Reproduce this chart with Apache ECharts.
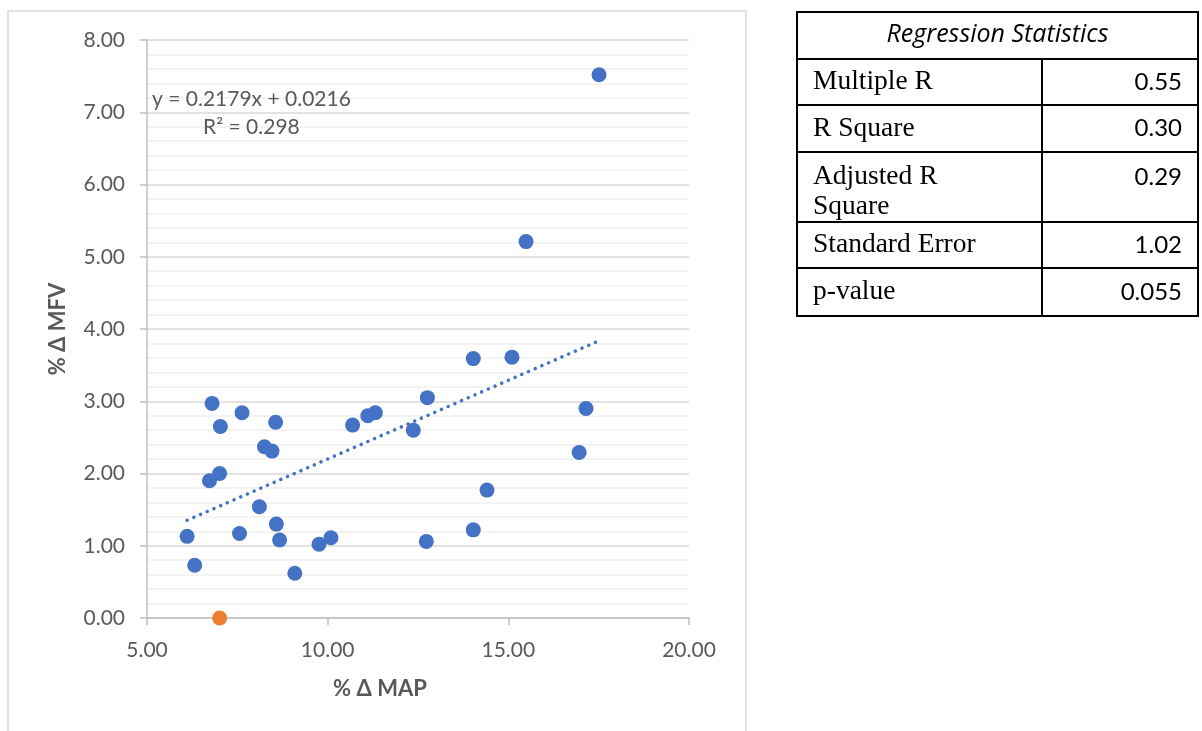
<!DOCTYPE html>
<html><head><meta charset="utf-8">
<script src="https://cdn.jsdelivr.net/npm/echarts@6/dist/echarts.min.js"></script>
<style>html,body{margin:0;padding:0;background:#fff}#c{width:1202px;height:731px}</style>
</head><body><div id="c"></div>
<script>
// ---- data ----
const mapX = [17.51, 15.49, 14.03, 15.10, 17.15, 16.96, 14.41, 14.03, 12.73, 12.76, 12.37, 11.32, 11.11, 10.69, 10.09, 9.76, 9.09, 8.67, 8.58, 8.11, 7.56, 8.56, 8.46, 8.25, 7.63, 6.80, 7.03, 7.01, 6.73, 6.11, 6.32];
const mfvY = [7.52, 5.21, 3.59, 3.61, 2.90, 2.29, 1.77, 1.22, 1.06, 3.05, 2.60, 2.84, 2.80, 2.67, 1.11, 1.02, 0.62, 1.08, 1.30, 1.54, 1.17, 2.71, 2.31, 2.37, 2.84, 2.97, 2.65, 2.00, 1.90, 1.13, 0.73];
const outlierX = [7.01];
const outlierY = [0.00];
const trendSlope = 0.2179;
const trendIntercept = 0.0216;
const equationText = 'y = 0.2179x + 0.0216';
const r2Text = 'R² = 0.298';
const xAxisTitle = '% Δ MAP';
const yAxisTitle = '% Δ MFV';
const tableTitle = 'Regression Statistics';
const statLabels = ['Multiple R', 'R Square', 'Adjusted R\nSquare', 'Standard Error', 'p-value'];
const statValues = ['0.55', '0.30', '0.29', '1.02', '0.055'];

// ---- build ----
const mainPts = mapX.map((x, i) => [x, mfvY[i]]);
const outPts = outlierX.map((x, i) => [x, outlierY[i]]);
const xMin = Math.min(...mapX), xMax = Math.max(...mapX);
const trendPts = [[xMin, trendSlope * xMin + trendIntercept], [xMax, trendSlope * xMax + trendIntercept]];

const gray = '#595959';
const font = 'Lato';

// table graphics
const rowsY = [12, 59, 105, 152, 222, 268, 316];
const tL = 797, tM = 1042, tR = 1198;
const g = [];
g.push({type: 'rect', shape: {x: 8, y: 11, width: 738, height: 760}, style: {fill: 'none', stroke: '#d9d9d9', lineWidth: 1.5}, z: -10, silent: true});
g.push({type: 'rect', shape: {x: tL, y: rowsY[0], width: tR - tL, height: rowsY[6] - rowsY[0]}, style: {fill: '#fff', stroke: '#000', lineWidth: 2}});
for (let i = 1; i < rowsY.length - 1; i++) {
  g.push({type: 'line', shape: {x1: tL, y1: rowsY[i], x2: tR, y2: rowsY[i]}, style: {stroke: '#000', lineWidth: 2}});
}
g.push({type: 'line', shape: {x1: tM, y1: rowsY[1], x2: tM, y2: rowsY[6]}, style: {stroke: '#000', lineWidth: 2}});
g.push({type: 'text', x: (tL + tR) / 2, y: (rowsY[0] + rowsY[1]) / 2 - 1, style: {text: tableTitle, fontFamily: 'Open Sans', fontStyle: 'italic', fontSize: 25, fill: '#000', align: 'center', verticalAlign: 'middle'}});
statLabels.forEach((lab, i) => {
  const top = rowsY[i + 1], bot = rowsY[i + 2];
  const multi = lab.indexOf('\n') >= 0;
  g.push({type: 'text', x: 813, y: multi ? top + 10 : (top + bot) / 2,
    style: {text: lab, fontFamily: 'Liberation Serif', fontSize: 27.5, lineHeight: 30, fill: '#000', align: 'left', verticalAlign: multi ? 'top' : 'middle'}});
  g.push({type: 'text', x: 1182, y: multi ? top + 10 : (top + bot) / 2,
    style: {text: statValues[i], fontFamily: font, fontSize: 24, lineHeight: 30, fill: '#000', align: 'right', verticalAlign: multi ? 'top' : 'middle'}});
});
g.push({type: 'text', x: 152, y: 99, style: {text: equationText, fontFamily: font, fontSize: 21, fill: gray, align: 'left', verticalAlign: 'middle'}, z: 10});
g.push({type: 'text', x: 203, y: 127, style: {text: r2Text, fontFamily: font, fontSize: 21, fill: gray, align: 'left', verticalAlign: 'middle'}, z: 10});

const chart = echarts.init(document.getElementById('c'), null, {renderer: 'canvas'});
chart.setOption({
  backgroundColor: '#fff',
  animation: false,
  grid: {left: 147, top: 40, right: 513, bottom: 113, containLabel: false},
  xAxis: {
    type: 'value', min: 5, max: 20, interval: 5,
    name: xAxisTitle, nameLocation: 'middle', nameGap: 60,
    nameTextStyle: {fontFamily: font, fontSize: 22, fontWeight: 'bold', color: gray, padding: [0, 76, 0, 0]},
    axisLine: {show: true, lineStyle: {color: '#bfbfbf', width: 1.5}},
    axisTick: {show: true, inside: false, length: 7, lineStyle: {color: '#bfbfbf', width: 1.5}},
    axisLabel: {formatter: v => v.toFixed(2), fontFamily: font, fontSize: 21, color: gray, margin: 22},
    splitLine: {show: false}
  },
  yAxis: {
    type: 'value', min: 0, max: 8, interval: 1,
    name: yAxisTitle, nameLocation: 'middle', nameGap: 78, nameRotate: 90,
    nameTextStyle: {fontFamily: font, fontSize: 22, fontWeight: 'bold', color: gray},
    axisLine: {show: true, onZero: false, lineStyle: {color: '#bfbfbf', width: 1.5}},
    axisTick: {show: true, inside: false, length: 7, lineStyle: {color: '#bfbfbf', width: 1.5}},
    axisLabel: {formatter: v => v.toFixed(2), fontFamily: font, fontSize: 21, color: gray, margin: 22},
    splitLine: {show: true, lineStyle: {color: '#d9d9d9', width: 1.5}},
    minorTick: {show: false, splitNumber: 5},
    minorSplitLine: {show: true, lineStyle: {color: '#f0f0f0', width: 1.5}}
  },
  series: [
    {type: 'scatter', data: mainPts, symbol: 'circle', symbolSize: 15, itemStyle: {color: '#4472C4', opacity: 1}, z: 3},
    {type: 'scatter', data: outPts, symbol: 'circle', symbolSize: 15, itemStyle: {color: '#ED7D31', opacity: 1}, z: 3},
    {type: 'line', data: trendPts, symbol: 'none', z: 4,
      lineStyle: {color: '#4472C4', width: 3.5, type: [0.1, 7.2], cap: 'round'}}
  ],
  graphic: g
});
</script></body></html>
